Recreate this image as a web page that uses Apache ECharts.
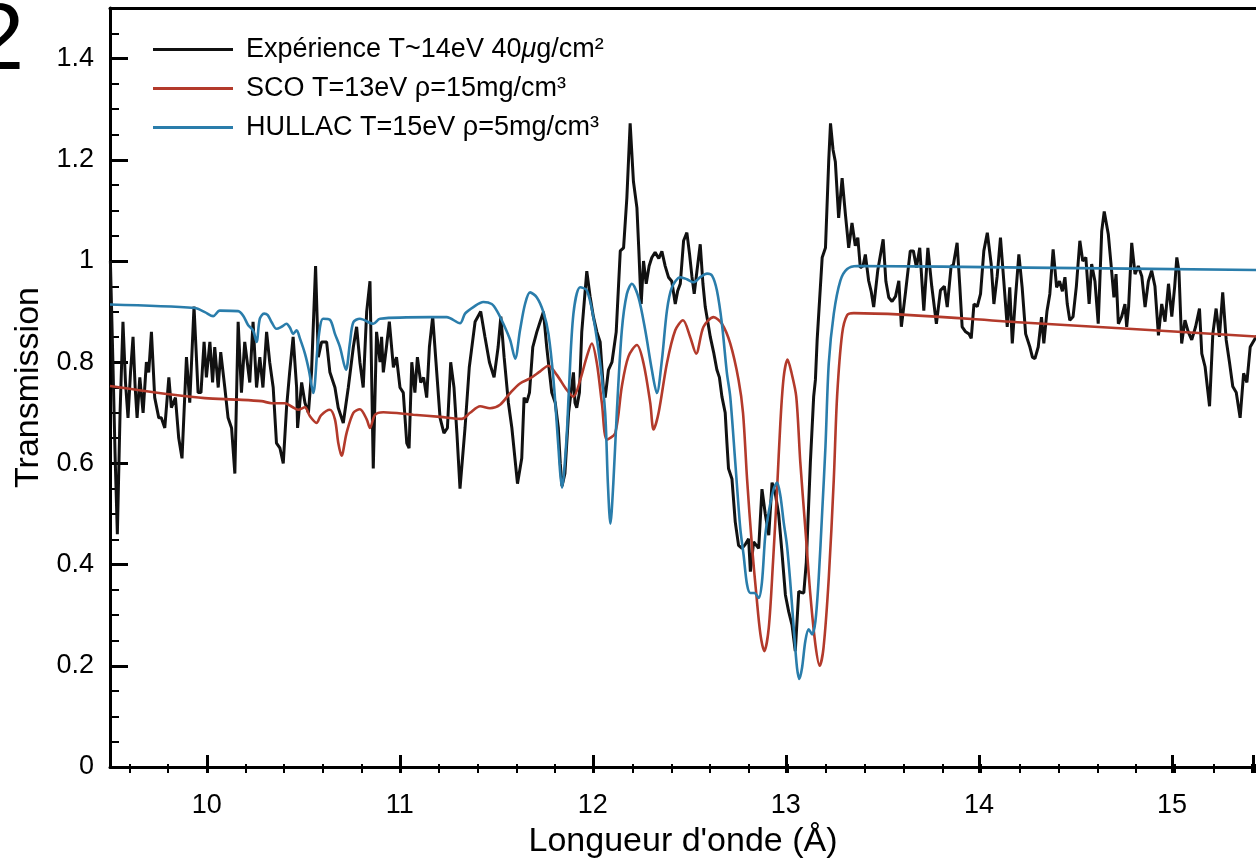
<!DOCTYPE html>
<html><head><meta charset="utf-8">
<script src="https://cdn.jsdelivr.net/npm/echarts@6/dist/echarts.min.js"></script>
<style>html,body{margin:0;padding:0;background:#fff}#c{width:1256px;height:864px}</style>
</head><body><div id="c"></div>
<script>
// ---------- data ----------
const seriesNames = ['Expérience T~14eV 40μg/cm²', 'SCO T=13eV ρ=15mg/cm³', 'HULLAC T=15eV ρ=5mg/cm³'];
const xTickLabels = ['10', '11', '12', '13', '14', '15'];
const yTickLabels = ['0', '0.2', '0.4', '0.6', '0.8', '1', '1.2', '1.4'];

const expX = [9.502,9.515,9.526,9.538,9.552,9.567,9.580,9.593,9.606,9.619,9.630,9.640,9.654,9.671,9.688,9.700,9.714,9.731,9.752,9.765,9.783,9.804,9.817,9.838,9.855,9.872,9.895,9.912,9.934,9.955,9.970,9.986,9.998,10.016,10.030,10.041,10.059,10.072,10.093,10.110,10.128,10.145,10.162,10.179,10.196,10.222,10.239,10.257,10.274,10.290,10.309,10.325,10.343,10.360,10.378,10.395,10.412,10.428,10.446,10.464,10.469,10.490,10.507,10.525,10.541,10.562,10.576,10.593,10.619,10.636,10.662,10.679,10.705,10.731,10.757,10.774,10.791,10.808,10.826,10.843,10.860,10.877,10.895,10.903,10.912,10.928,10.943,10.964,10.980,10.998,11.015,11.033,11.045,11.059,11.075,11.088,11.105,11.120,11.136,11.150,11.167,11.184,11.205,11.225,11.243,11.260,11.277,11.292,11.308,11.334,11.356,11.366,11.386,11.415,11.437,11.460,11.484,11.505,11.519,11.536,11.558,11.576,11.605,11.627,11.639,11.652,11.667,11.684,11.705,11.722,11.739,11.756,11.782,11.800,11.816,11.826,11.835,11.850,11.869,11.894,11.902,11.911,11.925,11.937,11.963,11.980,11.997,12.015,12.032,12.049,12.058,12.075,12.093,12.115,12.136,12.153,12.170,12.187,12.204,12.222,12.232,12.239,12.244,12.256,12.270,12.285,12.299,12.316,12.335,12.351,12.368,12.385,12.402,12.420,12.432,12.446,12.463,12.480,12.494,12.506,12.518,12.532,12.549,12.563,12.575,12.588,12.601,12.618,12.635,12.648,12.661,12.678,12.687,12.695,12.713,12.730,12.747,12.765,12.782,12.799,12.808,12.825,12.851,12.868,12.885,12.903,12.920,12.937,12.954,12.971,12.989,13.006,13.023,13.040,13.058,13.071,13.084,13.097,13.118,13.135,13.144,13.153,13.179,13.196,13.213,13.222,13.235,13.247,13.264,13.282,13.299,13.316,13.333,13.350,13.363,13.376,13.390,13.402,13.419,13.432,13.445,13.466,13.494,13.508,13.523,13.540,13.558,13.575,13.588,13.610,13.634,13.650,13.666,13.683,13.704,13.725,13.745,13.769,13.790,13.810,13.825,13.845,13.856,13.876,13.890,13.902,13.920,13.937,13.949,13.963,13.980,13.997,14.014,14.032,14.052,14.066,14.083,14.100,14.117,14.135,14.148,14.161,14.178,14.195,14.212,14.230,14.252,14.265,14.278,14.295,14.312,14.324,14.340,14.355,14.372,14.390,14.405,14.420,14.433,14.445,14.458,14.475,14.492,14.510,14.525,14.541,14.558,14.571,14.588,14.605,14.623,14.636,14.657,14.672,14.686,14.697,14.709,14.726,14.743,14.752,14.762,14.778,14.795,14.812,14.830,14.847,14.864,14.881,14.898,14.916,14.933,14.950,14.968,14.985,15.000,15.011,15.022,15.036,15.053,15.070,15.088,15.108,15.128,15.140,15.157,15.180,15.197,15.214,15.231,15.248,15.266,15.283,15.300,15.318,15.338,15.356,15.373,15.390,15.420,15.450];
const expY = [1.00,0.80,0.62,0.46,0.70,0.88,0.76,0.69,0.78,0.85,0.75,0.69,0.77,0.70,0.80,0.78,0.86,0.73,0.69,0.69,0.67,0.77,0.71,0.73,0.65,0.61,0.81,0.72,0.91,0.74,0.74,0.84,0.77,0.84,0.76,0.83,0.75,0.82,0.75,0.69,0.67,0.58,0.88,0.74,0.84,0.76,0.88,0.75,0.81,0.75,0.86,0.80,0.75,0.64,0.63,0.60,0.71,0.78,0.85,0.75,0.67,0.76,0.72,0.70,0.78,0.99,0.81,0.84,0.84,0.78,0.75,0.71,0.68,0.75,0.83,0.87,0.80,0.75,0.90,0.96,0.59,0.86,0.80,0.85,0.78,0.83,0.88,0.79,0.81,0.75,0.74,0.64,0.63,0.80,0.74,0.81,0.76,0.77,0.73,0.83,0.89,0.80,0.69,0.66,0.67,0.80,0.75,0.66,0.55,0.67,0.79,0.82,0.88,0.90,0.85,0.80,0.77,0.83,0.89,0.81,0.72,0.67,0.56,0.61,0.73,0.72,0.74,0.83,0.86,0.88,0.90,0.83,0.74,0.72,0.67,0.60,0.555,0.58,0.70,0.78,0.72,0.71,0.74,0.86,0.98,0.93,0.89,0.86,0.84,0.745,0.73,0.785,0.80,0.86,1.02,1.026,1.125,1.272,1.157,1.105,1.02,0.955,0.915,1.00,0.955,0.99,1.007,1.017,1.005,1.019,0.99,0.968,0.96,0.915,0.94,0.955,1.04,1.056,1.013,0.97,0.935,0.98,1.033,0.955,0.909,0.88,0.850,0.82,0.785,0.77,0.732,0.70,0.64,0.59,0.569,0.484,0.438,0.432,0.44,0.451,0.386,0.445,0.432,0.549,0.50,0.458,0.562,0.54,0.50,0.425,0.340,0.307,0.281,0.229,0.347,0.345,0.344,0.405,0.602,0.732,0.765,0.844,1.007,1.026,1.200,1.272,1.22,1.196,1.085,1.164,1.092,1.026,1.075,1.03,1.046,0.987,0.99,1.013,0.961,0.94,0.909,0.981,1.043,0.96,0.928,0.92,0.93,0.961,0.870,0.94,1.020,1.02,0.987,1.026,0.902,1.026,0.95,0.876,0.942,0.95,0.909,0.99,0.991,1.036,0.95,0.870,0.86,0.856,0.847,0.915,0.91,0.935,1.020,1.056,0.994,0.915,0.97,1.046,0.961,0.870,0.948,0.837,0.93,1.013,0.948,0.856,0.830,0.81,0.807,0.83,0.889,0.837,0.90,0.935,1.023,0.948,0.96,0.94,0.968,0.915,0.883,0.89,0.95,1.040,1.00,1.007,0.915,0.994,0.96,0.876,1.059,1.098,1.053,0.99,0.928,0.974,0.876,0.89,0.915,0.87,0.91,1.036,0.974,0.99,0.97,0.909,0.96,0.981,0.95,0.853,0.915,0.88,0.955,0.89,0.95,1.007,0.98,0.837,0.883,0.86,0.844,0.87,0.906,0.817,0.791,0.713,0.856,0.906,0.850,0.938,0.844,0.80,0.752,0.74,0.690,0.778,0.76,0.830,0.850,0.86];

const scoX = [9.50,9.645,9.817,9.990,10.162,10.283,10.335,10.403,10.440,10.472,10.507,10.533,10.567,10.590,10.636,10.662,10.679,10.696,10.722,10.757,10.791,10.826,10.843,10.869,10.912,11.067,11.205,11.317,11.360,11.412,11.463,11.515,11.567,11.618,11.670,11.722,11.765,11.808,11.860,11.894,11.929,11.963,11.989,12.015,12.041,12.067,12.110,12.144,12.178,12.222,12.256,12.291,12.308,12.334,12.377,12.420,12.460,12.497,12.528,12.566,12.618,12.661,12.704,12.747,12.770,12.791,12.816,12.839,12.860,12.880,12.903,12.925,12.946,12.963,12.980,13.000,13.020,13.045,13.066,13.092,13.118,13.144,13.166,13.186,13.213,13.239,13.256,13.282,13.308,13.342,14.235,15.45];
const scoY = [0.753,0.745,0.736,0.729,0.726,0.723,0.719,0.719,0.712,0.706,0.711,0.693,0.680,0.695,0.706,0.687,0.641,0.615,0.660,0.700,0.707,0.687,0.670,0.696,0.701,0.696,0.692,0.688,0.700,0.713,0.709,0.716,0.739,0.758,0.768,0.782,0.793,0.775,0.745,0.732,0.765,0.811,0.837,0.798,0.719,0.647,0.660,0.752,0.811,0.834,0.798,0.719,0.667,0.700,0.798,0.863,0.883,0.850,0.817,0.870,0.889,0.876,0.837,0.765,0.700,0.569,0.438,0.340,0.262,0.229,0.275,0.405,0.549,0.680,0.770,0.805,0.780,0.732,0.602,0.471,0.340,0.242,0.200,0.236,0.373,0.569,0.732,0.856,0.893,0.897,0.878,0.850];

const hulX = [9.50,9.938,9.990,10.033,10.067,10.162,10.188,10.214,10.239,10.257,10.274,10.296,10.315,10.335,10.360,10.386,10.412,10.430,10.446,10.464,10.481,10.507,10.527,10.550,10.576,10.601,10.636,10.662,10.688,10.719,10.739,10.757,10.791,10.860,10.895,11.153,11.239,11.308,11.334,11.377,11.429,11.472,11.498,11.532,11.567,11.593,11.618,11.644,11.670,11.705,11.739,11.765,11.791,11.816,11.826,11.835,11.845,11.860,11.869,11.894,11.929,11.963,11.997,12.032,12.058,12.072,12.085,12.100,12.118,12.144,12.170,12.196,12.230,12.265,12.299,12.325,12.351,12.377,12.403,12.446,12.480,12.515,12.549,12.584,12.610,12.635,12.661,12.687,12.704,12.730,12.756,12.773,12.791,12.808,12.829,12.851,12.868,12.885,12.903,12.928,12.946,12.963,12.980,12.997,13.014,13.032,13.049,13.061,13.075,13.092,13.109,13.127,13.144,13.161,13.179,13.196,13.213,13.239,13.273,13.308,13.360,14.235,15.45];
const hulY = [0.914,0.907,0.899,0.891,0.902,0.901,0.892,0.873,0.863,0.840,0.886,0.896,0.893,0.879,0.866,0.870,0.876,0.868,0.856,0.863,0.847,0.817,0.785,0.739,0.844,0.886,0.884,0.856,0.830,0.785,0.837,0.879,0.886,0.876,0.886,0.889,0.889,0.877,0.896,0.909,0.919,0.915,0.902,0.876,0.844,0.807,0.863,0.915,0.938,0.928,0.899,0.856,0.765,0.634,0.580,0.552,0.580,0.660,0.732,0.896,0.948,0.942,0.889,0.798,0.700,0.560,0.481,0.560,0.700,0.863,0.935,0.955,0.928,0.863,0.785,0.739,0.804,0.902,0.948,0.968,0.964,0.958,0.968,0.975,0.971,0.942,0.876,0.778,0.732,0.602,0.471,0.419,0.360,0.344,0.344,0.334,0.366,0.458,0.504,0.549,0.562,0.536,0.484,0.438,0.366,0.275,0.196,0.174,0.196,0.249,0.272,0.262,0.288,0.373,0.504,0.634,0.798,0.896,0.961,0.984,0.990,0.987,0.982];

// ---------- layout ----------
const FONT = 'Liberation Sans, Arial, Helvetica, sans-serif';
const W = 1256, L = 110, R = 0, T = 8, B = 91;
const X_MIN = 9.5, X_MAX = 15.42, Y_MIN = 0, Y_MAX = 1.5;
const pxPerUnit = (W - L - R) / (X_MAX - X_MIN);
const COLORS = ['#111111', '#b33a2b', '#2a7dab'];

function pairs(xs, ys) { return xs.map((x, i) => [x, ys[i]]); }

const chart = echarts.init(document.getElementById('c'), null, { renderer: 'canvas' });
const hiddenY = (gi) => ({ gridIndex: gi, type: 'value', min: 0, max: 1, show: false, splitLine: { show: false } });

chart.setOption({
  animation: false,
  backgroundColor: '#fff',
  textStyle: { fontFamily: FONT },
  grid: [
    { left: L, right: R, top: T, bottom: B },
    { left: L + (10 - X_MIN) * pxPerUnit, right: R, top: T, bottom: B },
    { left: L + (9.6 - X_MIN) * pxPerUnit, right: R, top: T, bottom: B }
  ],
  xAxis: [
    { gridIndex: 0, type: 'value', position: 'bottom', min: X_MIN, max: X_MAX,
      axisLine: { onZero: false, lineStyle: { color: '#000', width: 3 } },
      axisTick: { show: false }, axisLabel: { show: false }, splitLine: { show: false },
      name: "Longueur d'onde (Å)", nameLocation: 'middle', nameGap: 58,
      nameTextStyle: { fontSize: 34, color: '#000', fontFamily: FONT } },
    { gridIndex: 1, type: 'value', min: 10, max: X_MAX, interval: 1,
      axisLine: { show: false, onZero: false },
      axisTick: { inside: true, length: 18, lineStyle: { color: '#000', width: 3 } },
      axisLabel: { fontSize: 27, color: '#000', margin: 19, fontFamily: FONT,
        formatter: v => { const s = String(Math.round(v * 1000) / 1000); return xTickLabels.includes(s) ? s : ''; } },
      splitLine: { show: false } },
    { gridIndex: 2, type: 'value', min: 9.6, max: X_MAX, interval: 0.2,
      axisLine: { show: false, onZero: false },
      axisTick: { inside: true, length: 9, lineStyle: { color: '#000', width: 2 } },
      axisLabel: { show: false }, splitLine: { show: false } },
    { gridIndex: 0, type: 'value', position: 'top', min: X_MIN, max: X_MAX,
      axisLine: { show: true, onZero: false, lineStyle: { color: '#000', width: 3 } },
      axisTick: { show: false }, axisLabel: { show: false }, splitLine: { show: false } }
  ],
  yAxis: [
    { gridIndex: 0, type: 'value', position: 'left', min: Y_MIN, max: Y_MAX, interval: 0.2,
      axisLine: { show: true, onZero: false, lineStyle: { color: '#000', width: 3 } },
      axisTick: { show: true, inside: true, length: 18, lineStyle: { color: '#000', width: 3 } },
      axisLabel: { fontSize: 27, color: '#000', margin: 16, fontFamily: FONT,
        formatter: v => { const s = String(Math.round(v * 1000) / 1000); return yTickLabels.includes(s) ? s : ''; } },
      splitLine: { show: false },
      name: 'Transmission', nameLocation: 'middle', nameGap: 63,
      nameTextStyle: { fontSize: 34, color: '#000', fontFamily: FONT } },
    { gridIndex: 0, type: 'value', position: 'left', offset: 0, min: Y_MIN, max: Y_MAX, interval: 0.05,
      axisLine: { show: false, onZero: false },
      axisTick: { show: true, inside: true, length: 9, lineStyle: { color: '#000', width: 2 } },
      axisLabel: { show: false }, splitLine: { show: false } },
    hiddenY(1), hiddenY(2)
  ],
  legend: {
    data: seriesNames, orient: 'vertical', left: 148, top: 31,
    itemWidth: 80, itemHeight: 3, itemGap: 12, icon: 'rect', selectedMode: false,
    textStyle: { fontSize: 27, color: '#000', fontFamily: FONT, padding: [0, 0, 0, 8],
      rich: { n: { fontSize: 27, color: '#000', fontFamily: FONT },
              i: { fontSize: 27, color: '#000', fontFamily: FONT, fontStyle: 'italic' } } },
    formatter: name => {
      const k = name.indexOf('μ');
      if (k < 0) return name;
      return '{n|' + name.slice(0, k) + '}{i|μ}{n|' + name.slice(k + 1) + '}';
    }
  },
  graphic: [
    { type: 'text', x: -28, y: -4, silent: true,
      style: { text: '2', fontSize: 94, fontFamily: FONT, fill: '#000', verticalAlign: 'top' } }
  ],
  series: [
    { name: seriesNames[0], type: 'line', xAxisIndex: 0, yAxisIndex: 0, data: pairs(expX, expY),
      showSymbol: false, symbol: 'none', lineStyle: { color: COLORS[0], width: 3 }, itemStyle: { color: COLORS[0] } },
    { name: seriesNames[1], type: 'line', xAxisIndex: 0, yAxisIndex: 0, data: pairs(scoX, scoY),
      showSymbol: false, symbol: 'none', smooth: 0.3, lineStyle: { color: COLORS[1], width: 2.6 }, itemStyle: { color: COLORS[1] } },
    { name: seriesNames[2], type: 'line', xAxisIndex: 0, yAxisIndex: 0, data: pairs(hulX, hulY),
      showSymbol: false, symbol: 'none', smooth: 0.3, lineStyle: { color: COLORS[2], width: 2.6 }, itemStyle: { color: COLORS[2] } }
  ]
});
</script>
</body></html>
